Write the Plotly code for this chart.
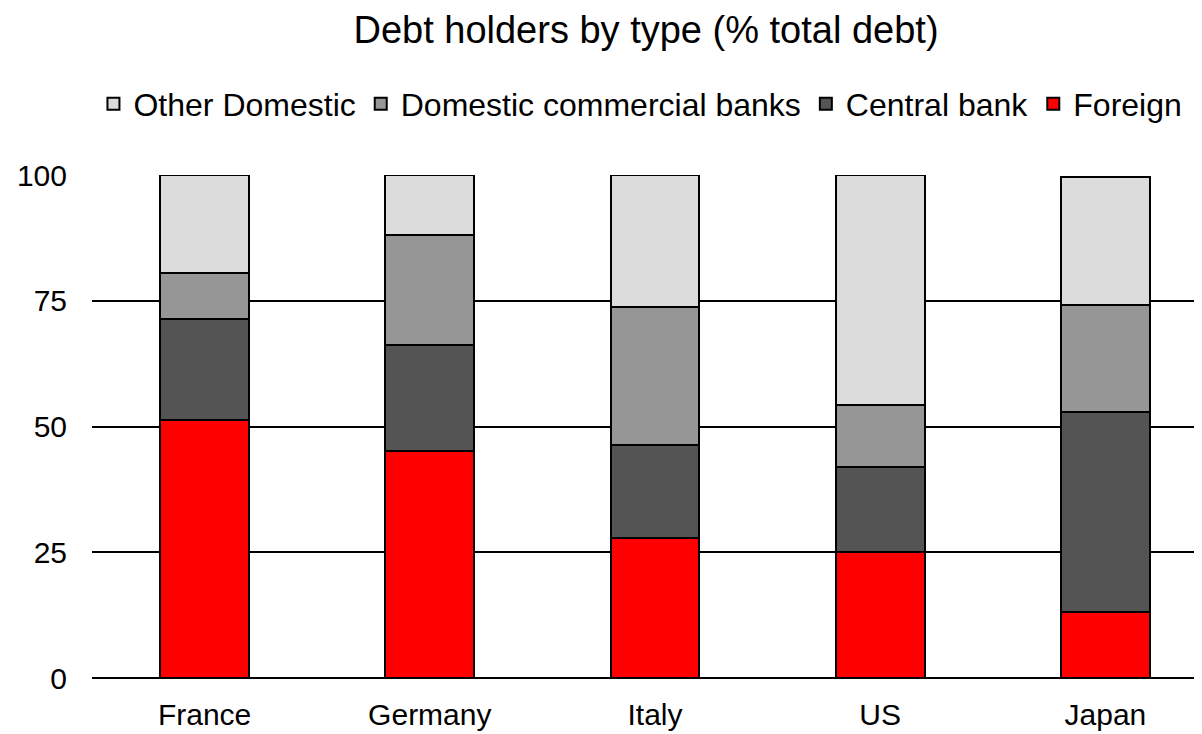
import plotly.graph_objects as go

countries = ["France", "Germany", "Italy", "US", "Japan"]
foreign = [51.2, 45.1, 27.9, 25.0, 13.2]
central_bank = [20.2, 21.2, 18.5, 16.9, 39.6]
domestic_banks = [9.2, 21.7, 27.3, 12.3, 21.4]
other_domestic = [19.4, 12.0, 26.3, 45.8, 25.5]
y_ticks = [0, 25, 50, 75, 100]

FONT = "Liberation Sans, Arial, sans-serif"

series = [
    ("Foreign", foreign, "#ff0000"),
    ("Central bank", central_bank, "#545454"),
    ("Domestic commercial banks", domestic_banks, "#969696"),
    ("Other Domestic", other_domestic, "#dcdcdc"),
]

fig = go.Figure()
for name, vals, color in series:
    fig.add_trace(go.Bar(
        name=name, x=countries, y=vals,
        marker=dict(color=color, line=dict(color="#000000", width=2)),
    ))

W, H = 1194, 726
fig.update_layout(
    barmode="stack",
    bargap=0.605,
    width=W, height=H,
    margin=dict(l=84, r=2, t=167, b=56),
    paper_bgcolor="white", plot_bgcolor="white",
    font=dict(family=FONT, color="#000000", size=30),
    title=dict(text="Debt holders by type (% total debt)", x=0.5, xref="paper",
               xanchor="center", y=1 - 22 / H, yref="container", yanchor="middle",
               font=dict(size=38, family=FONT, color="#000000")),
    legend=dict(orientation="h", traceorder="reversed", x=0.495, xanchor="center",
                xref="paper", y=1 - 96 / H, yref="container", yanchor="middle",
                font=dict(size=32, family=FONT, color="#000000"),
                bgcolor="rgba(0,0,0,0)"),
    showlegend=True,
)
fig.update_xaxes(range=[-0.5, 4.42], showgrid=False, showline=False, zeroline=False,
                 ticks="", ticklabelstandoff=16, tickfont=dict(size=30))
fig.update_yaxes(range=[0, 100], tickvals=y_ticks, showgrid=True, gridcolor="#000000",
                 gridwidth=2, zeroline=True, zerolinecolor="#000000", zerolinewidth=2,
                 showline=False, ticks="", ticklabelstandoff=24, tickfont=dict(size=30))

fig.write_html("out.html")
